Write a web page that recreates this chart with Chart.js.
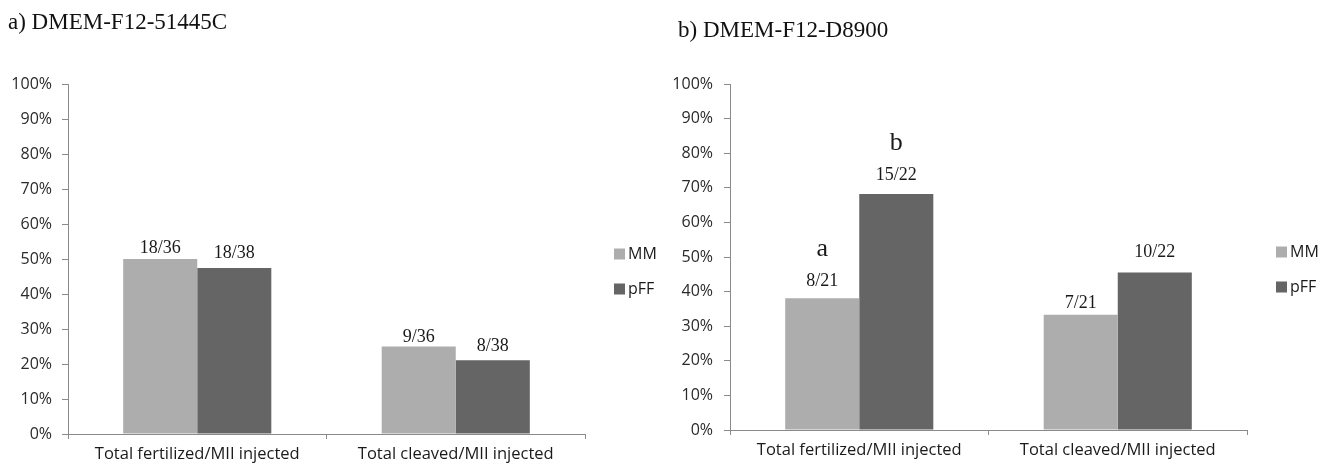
<!DOCTYPE html>
<html><head><meta charset="utf-8">
<script src="https://cdn.jsdelivr.net/npm/chart.js@4.4.1/dist/chart.umd.min.js"></script>
<style>
html,body{margin:0;padding:0;background:#fff;width:1335px;height:470px;overflow:hidden}
#wrapA{position:absolute;left:0;top:0;width:667px;height:470px}
#wrapB{position:absolute;left:667px;top:0;width:668px;height:470px}
canvas{display:block}
.title{position:absolute;font-family:"Liberation Serif","Times New Roman",serif;font-size:23px;line-height:23px;color:#111;white-space:nowrap;z-index:2}
</style></head><body>
<div class="title" style="left:8px;top:10px">a) DMEM-F12-51445C</div>
<div class="title" style="left:678px;top:18px">b) DMEM-F12-D8900</div>
<div id="wrapA"><canvas id="cA" width="667" height="470"></canvas></div>
<div id="wrapB"><canvas id="cB" width="668" height="470"></canvas></div>
<script>
// ---- data ----
const categories = ['Total fertilized/MII injected', 'Total cleaved/MII injected'];
const seriesNames = ['MM', 'pFF'];
// panel a) DMEM-F12-51445C (percent)
const mmA = [50.0, 25.0];
const pffA = [47.4, 21.1];
const mmAFrac = ['18/36', '9/36'];
const pffAFrac = ['18/38', '8/38'];
// panel b) DMEM-F12-D8900 (percent)
const mmB = [38.1, 33.3];
const pffB = [68.2, 45.5];
const mmBFrac = ['8/21', '7/21'];
const pffBFrac = ['15/22', '10/22'];
const mmBLetters = ['a', ''];
const pffBLetters = ['b', ''];
const yMin = 0, yMax = 100, yStep = 10;

// ---- style ----
const colMM = '#adadad', colPFF = '#656565', axisCol = '#8a8a8a';
const gapA = { mm: [6, 5], pff: [10, 9] };
const gapB = { mm: [12, 7], pff: [14, 16] };

const barLabels = {
  id: 'barLabels',
  afterDatasetsDraw(chart, args, opts) {
    const ctx = chart.ctx;
    ctx.save();
    ctx.textAlign = 'center';
    ctx.textBaseline = 'alphabetic';
    ctx.fillStyle = '#1a1a1a';
    chart.data.datasets.forEach((ds, di) => {
      const meta = chart.getDatasetMeta(di);
      const L = opts.sets[di];
      meta.data.forEach((bar, i) => {
        const base = bar.y - L.gap[i];
        ctx.font = '18px "Liberation Serif", "Times New Roman", serif';
        ctx.fillText(L.text[i], bar.x, base);
        if (L.letters && L.letters[i]) {
          ctx.font = '26px "Liberation Serif", "Times New Roman", serif';
          ctx.fillText(L.letters[i], bar.x, base - 30);
        }
      });
    });
    ctx.restore();
  }
};

const sideLegend = {
  id: 'sideLegend',
  afterDraw(chart, args, opts) {
    const ctx = chart.ctx;
    ctx.save();
    ctx.font = '16px "Open Sans", Lato, sans-serif';
    ctx.textBaseline = 'middle';
    ctx.textAlign = 'left';
    chart.data.datasets.forEach((ds, i) => {
      const y = opts.y + i * 35;
      ctx.fillStyle = ds.backgroundColor;
      ctx.fillRect(opts.x, y - 5.5, 11, 11);
      ctx.fillStyle = '#1a1a1a';
      ctx.fillText(ds.label, opts.x + 14, y);
    });
    ctx.restore();
  }
};

function makeChart(id, mm, pff, fr1, fr2, gaps, letters1, letters2, yW, xH, padRight, tickPad, legX, legY) {
  return new Chart(document.getElementById(id), {
    type: 'bar',
    data: {
      labels: categories,
      datasets: [
        { label: seriesNames[0], data: mm, backgroundColor: colMM, borderWidth: 0 },
        { label: seriesNames[1], data: pff, backgroundColor: colPFF, borderWidth: 0 }
      ]
    },
    options: {
      responsive: false,
      animation: false,
      devicePixelRatio: 1,
      layout: { padding: { left: 0, top: 84, right: padRight, bottom: 0 } },
      datasets: { bar: { categoryPercentage: 0.573, barPercentage: 1.0 } },
      plugins: {
        legend: { display: false },
        tooltip: { enabled: false },
        title: { display: false },
        barLabels: { sets: [
          { text: fr1, gap: gaps.mm, letters: letters1 },
          { text: fr2, gap: gaps.pff, letters: letters2 }
        ] },
        sideLegend: { x: legX, y: legY }
      },
      scales: {
        x: {
          afterFit: s => { s.height = xH; },
          grid: { offset: true, drawOnChartArea: false, drawTicks: true, tickLength: 5, color: axisCol },
          border: { display: true, color: axisCol, width: 1 },
          ticks: { color: '#1a1a1a', padding: 5, font: { family: '"Open Sans", Lato, sans-serif', size: 16.5 } }
        },
        y: {
          min: yMin, max: yMax,
          afterFit: s => { s.width = yW; },
          grid: { drawOnChartArea: false, drawTicks: true, tickLength: 6, color: axisCol },
          border: { display: true, color: axisCol, width: 1 },
          ticks: { stepSize: yStep, color: '#2a2a2a', padding: tickPad,
                   font: { family: '"Open Sans", Lato, sans-serif', size: 16 },
                   callback: v => v + '%' }
        }
      }
    },
    plugins: [barLabels, sideLegend]
  });
}

makeChart('cA', mmA, pffA, mmAFrac, pffAFrac, gapA, null, null, 68, 36, 82, 10, 614, 254);
makeChart('cB', mmB, pffB, mmBFrac, pffBFrac, gapB, mmBLetters, pffBLetters, 63, 40, 88, 11, 609, 252);
</script>
</body></html>
